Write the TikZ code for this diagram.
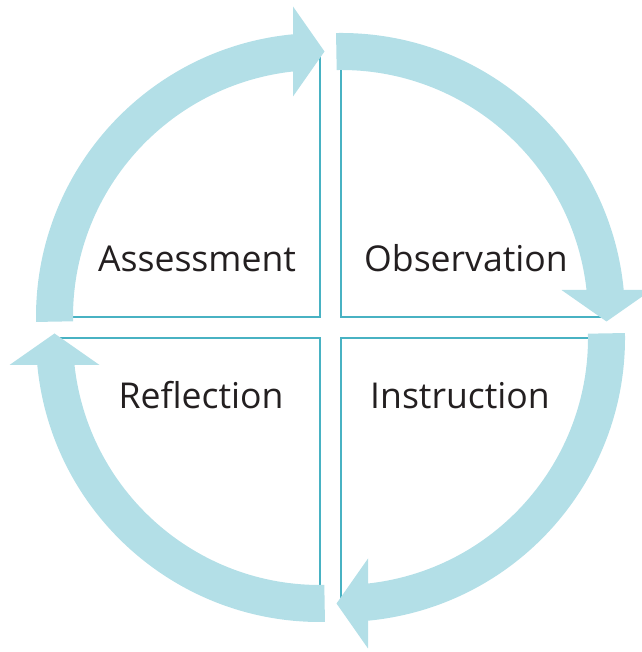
\documentclass[tikz,border=0pt]{standalone}
\usepackage{fontspec}
\setmainfont{Open Sans}
\definecolor{bandblue}{HTML}{B3DFE7}
\definecolor{edgeteal}{HTML}{48B2C3}
\definecolor{txt}{HTML}{231F20}
\begin{document}
\begin{tikzpicture}[x=1pt,y=1pt,
  band/.style={fill=bandblue},
  edge/.style={draw=edgeteal,line width=2.6pt},
  lbl/.style={anchor=base,text=txt,font=\fontsize{35.6}{40}\selectfont,inner sep=0pt}]
\useasboundingbox (0,0) rectangle (641,652);
% quadrant corners (tikz coords)
\coordinate (cO) at (341,335);
\coordinate (cI) at (341,314);
\coordinate (cR) at (320,314);
\coordinate (cA) at (320,335);
\foreach \c/\r/\n in {cO/0/o,cI/-90/i,cR/-180/r,cA/90/a}{
  \begin{scope}[shift={(\c)},rotate=\r]
    \coordinate (\n0) at (0,0);
    \coordinate (\n v) at (0,265);
    \coordinate (\n h) at (265,0);
    \draw[edge] (\n v) -- (\n0) -- (\n h);
    \fill[band] (91:284) arc[start angle=91, end angle=5.05, radius=284]
      -- (5.81:247) arc[start angle=5.81, end angle=91, radius=247] -- cycle;
    \coordinate (\n b1) at (220.5,27);
    \coordinate (\n b2) at (310.5,27);
    \coordinate (\n t) at (265.5,-4.5);
    \fill[band] (\n b1) -- (\n b2) -- (\n t) -- cycle;
  \end{scope}
}
\node[lbl] (assess) at (197,380) {Assessment};
\node[lbl] (observ) at (466,380) {Observation};
\node[lbl] (reflect) at (201,243) {Reflection};
\node[lbl] (instr) at (460,243) {Instruction};
\end{tikzpicture}
\end{document}
